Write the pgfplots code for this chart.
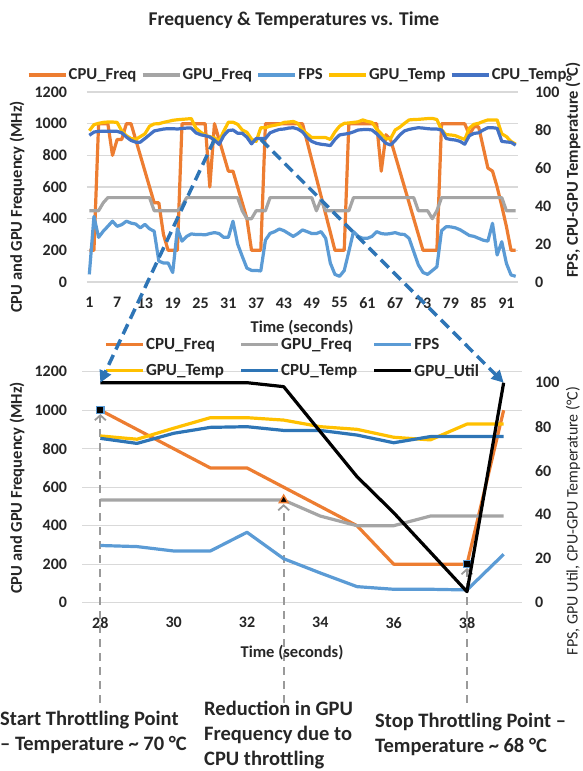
\documentclass[border=0pt]{standalone}
\usepackage{fontspec}
\setmainfont{Carlito}
\usepackage{pgfplots}
\usepackage{pgfplotstable}
\pgfplotsset{compat=1.18}
\usetikzlibrary{arrows.meta}

\definecolor{cOrange}{HTML}{ED7D31}
\definecolor{cGray}{HTML}{A5A5A5}
\definecolor{cFPS}{HTML}{5B9BD5}
\definecolor{cYellow}{HTML}{FFC000}
\definecolor{cBlueA}{HTML}{4472C4}
\definecolor{cBlueB}{HTML}{2E75B6}
\definecolor{cArrow}{HTML}{2E75B6}
\definecolor{gridgray}{HTML}{D9D9D9}
\definecolor{txt}{HTML}{262626}
\definecolor{annot}{HTML}{9A9A9A}

\newcommand\tickfont{\bfseries\fontsize{16}{16}\selectfont}
\newcommand\labfont{\bfseries\fontsize{16.5}{16.5}\selectfont}
\newcommand\legfont{\bfseries\fontsize{17}{17}\selectfont}
\newcommand\legfontT{\bfseries\fontsize{16.7}{16.7}\selectfont}
\newcommand\annfont{\bfseries\fontsize{20.5}{25}\selectfont}

\tikzset{
  ser/.style={line width=3.2pt,line join=round},
  cf/.style={ser,color=cOrange},
  gf/.style={ser,color=cGray},
  fps/.style={ser,color=cFPS},
  gt/.style={ser,color=cYellow},
  cta/.style={ser,color=cBlueA},
  ctb/.style={ser,color=cBlueB},
  gu/.style={ser,color=black},
  bluearrow/.style={draw=cArrow,line width=3.5pt,dash pattern=on 11pt off 6pt,
    -{Triangle[length=12pt,width=12pt]}},
  graydash/.style={draw=annot,line width=2pt,dash pattern=on 8pt off 6pt,
    -{Straight Barb[length=5pt,width=11pt,line width=1.8pt]}}
}

\pgfplotsset{
  base/.style={
    scale only axis,
    anchor=south west,
    axis line style={draw=none},
    tick style={draw=none},
    major tick length=0pt,
    scaled ticks=false,
    /pgf/number format/assume math mode=true,
    /pgf/number format/1000 sep={},
    ticklabel style={font=\tickfont,text=txt},
    grid style={draw=gridgray,line width=1.3pt},
    legend cell align=left,
    legend image code/.code={\draw[##1] (0pt,0pt) -- (37pt,0pt);},
  }
}

% top chart: seconds 1..93
\pgfplotstableread{
i cf gf fps gt ct
1 200 450 4 79.6 77.2
2 200 450 34.5 82.8 78.9
3 1000 450 23.5 83.5 79.3
4 1000 500 26.7 84 79.3
5 1000 533 29.3 84.2 79.3
6 800 533 32 84.2 79.3
7 900 533 29.3 84 79.3
8 900 533 30.2 79.5 78.5
9 1000 533 32 77 76.3
10 1000 533 31 75.5 74.5
11 900 533 30.5 75.1 73.6
12 800 533 28.5 76.5 73.6
13 700 533 30.3 78 75.5
14 600 533 28 82 77.5
15 500 450 26.7 83.2 79.5
16 500 450 11 83.3 80
17 300 450 10 84 80.5
18 200 450 10 84.5 80.7
19 200 450 5 85.1 80.7
20 200 450 28 85.4 80.5
21 1000 480 21.5 85.6 80.8
22 1000 533 24 85.8 81
23 1000 533 25.3 86 81
24 1000 533 25 81 78.5
25 1000 533 25 78.9 77.5
26 1000 533 24.8 77.2 77
27 600 533 25.5 76.5 76.3
28 1000 533 26 75.8 74.7
29 900 533 25.5 74.3 72.4
30 800 533 23.5 79.3 77
31 700 533 23.5 84.1 79.7
32 700 533 32 84.1 80
33 600 533 20 83 78.3
34 500 450 13.5 80 78.3
35 400 400 7.3 78.8 76.2
36 200 400 6.1 75.2 72.7
37 200 450 6.1 74 75.5
38 200 450 5.8 81.2 75.5
39 1000 450 22 81.2 75.5
40 1000 533 25.6 82 78.5
41 1000 533 26.5 82.5 79.5
42 1000 533 27.9 83 80.3
43 1000 533 27 84 80.5
44 1000 533 25.5 84.2 81
45 1000 533 24 84.5 81.2
46 1000 533 25.5 83.5 80.5
47 1000 533 27.4 80 79
48 886 533 26.5 78 76
49 771 533 25.5 76 74
50 657 450 25.5 76 73
51 543 520 26.5 76 72.5
52 429 450 23 76 72.2
53 314 450 10 75 71.8
54 200 450 4 79 75
55 200 450 3 82 77.4
56 200 450 6 83.5 77.8
57 1000 450 16 83.7 78.2
58 1000 533 26.5 84 79
59 1000 533 24 84.3 80
60 1000 533 23 85.3 80.2
61 1000 533 23 84.5 80.3
62 1000 533 24 84 80
63 1000 533 26.5 80.5 78
64 700 533 25.5 78 75.5
65 930 533 25.2 75.4 73
66 900 533 25.5 75.4 72.1
67 800 533 26 80 74.5
68 700 533 25.2 81.5 77.4
69 600 533 25 83.5 79.5
70 500 533 23 85.3 80.3
71 400 533 16 85.5 80.8
72 300 450 9 85.6 81.2
73 200 450 5 85.8 81
74 200 450 4 86 80.7
75 200 400 6 86.1 80.5
76 200 450 8 85.5 80.5
77 1000 533 27 80 80
78 1000 533 29.1 77.5 75.5
79 1000 533 29 77.4 75
80 1000 533 28.5 77 74.7
81 1000 533 27.5 76 74
82 1000 533 26 75 72.5
83 930 533 24.5 81 77
84 980 533 24 83 78.2
85 980 533 23 83.5 78.5
86 850 533 22 84.5 80
87 720 533 21.5 85.3 81.2
88 700 533 30.9 85.3 81.2
89 600 533 14.2 85.3 80.9
90 480 533 21.2 78 74
91 350 450 9.8 76.5 73.7
92 200 450 3.7 74 73.5
93 200 450 3 72.5 72
}\topdata

% bottom chart: seconds 28..39
\pgfplotstableread{
t cf gf fps gt ct gu
28 1000 533 26 75.8 74.7 100
29 900 533 25.5 74.3 72.4 100
30 800 533 23.5 79.3 77 100
31 700 533 23.5 84.1 79.7 100
32 700 533 32 84.1 80 100
33 600 533 20 83 78.3 98.2
34 500 450 13.5 80 78.3 77.7
35 400 400 7.3 78.8 76.2 57.3
36 200 400 6.1 75.2 72.7 40.9
37 200 450 6.1 74 75.5 23
38 200 450 5.8 81.2 75.5 5
39 1000 450 22 81.2 75.5 100
}\botdata

\begin{document}
\begin{tikzpicture}[x=1pt,y=1pt]
\useasboundingbox (0,0) rectangle (582,771);

% ---------- top chart ----------
\begin{axis}[base,at={(87pt,489pt)},width=431pt,height=190pt,
  xmin=0.5,xmax=93.5,ymin=0,ymax=1200,
  xtick={1,7,...,91},ytick={0,200,...,1200},ymajorgrids,
  xticklabel style={yshift=-12pt},yticklabel style={xshift=-16.5pt}]
\addplot[cf] table[x=i,y=cf]{\topdata};
\addplot[gf] table[x=i,y=gf]{\topdata};
\end{axis}
\begin{axis}[base,at={(87pt,489pt)},width=431pt,height=190pt,
  xmin=0.5,xmax=93.5,ymin=0,ymax=100,hide x axis,axis y line*=right,
  ytick={0,20,...,100},yticklabel style={xshift=13.5pt,anchor=west},
  legend columns=5,
  legend style={at={(0.5,1)},anchor=south,xshift=-5pt,yshift=9pt,draw=none,fill=none,
    font=\legfontT,text=txt,inner sep=0pt,nodes={inner sep=1.5pt},
    /tikz/every even column/.append style={column sep=3pt}}]
\addlegendimage{cf}\addlegendentry{CPU\_Freq}
\addlegendimage{gf}\addlegendentry{GPU\_Freq}
\addplot[fps] table[x=i,y=fps]{\topdata};\addlegendentry{FPS}
\addplot[gt] table[x=i,y=gt]{\topdata};\addlegendentry{GPU\_Temp}
\addplot[cta] table[x=i,y=ct]{\topdata};\addlegendentry{CPU\_Temp}
\coordinate (s1) at (axis cs:28,75);
\coordinate (s2) at (axis cs:38,75);
\end{axis}

% ---------- bottom chart ----------
\begin{axis}[base,at={(82pt,168.3pt)},width=440pt,height=231pt,clip=false,
  xmin=27.5,xmax=39.5,ymin=0,ymax=1200,
  xtick={28,30,...,38},ytick={0,200,...,1200},ymajorgrids,
  xticklabel style={yshift=-11pt},yticklabel style={xshift=-11.5pt}]
\addplot[cf] table[x=t,y=cf]{\botdata};
\addplot[gf] table[x=t,y=gf]{\botdata};
\draw[graydash] (axis cs:28,-521) -- (axis cs:28,980);
\draw[graydash] (axis cs:33,-521) -- (axis cs:33,512);
\draw[graydash] (axis cs:38,-521) -- (axis cs:38,180);
\addplot[only marks,mark=square*,mark size=3.6pt,
  mark options={fill=black,draw=cFPS,line width=1.4pt}] coordinates {(28,1000) (38,200)};
\addplot[only marks,mark=triangle*,mark size=5pt,
  mark options={fill=black,draw=cOrange,line width=1.4pt}] coordinates {(33,533)};
\end{axis}
\begin{axis}[base,at={(82pt,168.3pt)},width=440pt,height=231pt,
  xmin=27.5,xmax=39.5,ymin=0,ymax=105,hide x axis,axis y line*=right,
  ytick={0,20,...,100},yticklabel style={xshift=9.5pt,anchor=west},
  legend columns=3,
  legend style={at={(0.5,1)},anchor=center,xshift=-9.5pt,yshift=13.7pt,draw=none,fill=none,
    font=\legfont,text=txt,inner sep=0pt,nodes={inner sep=1.5pt},row sep=10pt,
    /tikz/every even column/.append style={column sep=14pt}}]
\addlegendimage{cf}\addlegendentry{CPU\_Freq}
\addlegendimage{gf}\addlegendentry{GPU\_Freq}
\addplot[fps] table[x=t,y=fps]{\botdata};\addlegendentry{FPS}
\addplot[gt] table[x=t,y=gt]{\botdata};\addlegendentry{GPU\_Temp}
\addplot[ctb] table[x=t,y=ct]{\botdata};\addlegendentry{CPU\_Temp}
\addplot[gu] table[x=t,y=gu]{\botdata};\addlegendentry{GPU\_Util}
\coordinate (e1) at (axis cs:28,100);
\coordinate (e2) at (axis cs:39,100);
\end{axis}

% ---------- arrows linking the two charts ----------
\draw[bluearrow] (s1) -- (e1);
\draw[bluearrow] (s2) -- (e2);

% ---------- titles and labels ----------
\node[font=\bfseries\fontsize{19.5}{19.5}\selectfont,text=txt] at (294,751) {Frequency \& Temperatures vs. Time};
\node[rotate=90,font=\labfont,text=txt] at (17,564) {CPU and GPU Frequency (MHz)};
\node[rotate=90,font=\labfont,text=txt] at (573,601) {FPS, CPU-GPU Temperature (°C)};
\node[font=\labfont,text=txt] at (302,443) {Time (seconds)};
\node[rotate=90,font=\labfont,text=txt] at (17,283) {CPU and GPU Frequency (MHz)};
\node[rotate=90,font=\fontsize{16}{16}\selectfont,text=txt] at (573,250) {FPS, GPU Util, CPU-GPU Temperature (°C)};
\node[font=\labfont,text=txt] at (292,118) {Time (seconds)};

% ---------- annotations ----------
\node[anchor=west,align=left,font=\annfont,text=txt,inner sep=0pt] at (0,38.5)
  {Start Throttling Point\\– Temperature \textasciitilde{} 70 °C};
\node[anchor=west,align=left,font=\annfont,text=txt,inner sep=0pt] at (204,36)
  {Reduction in GPU\\Frequency due to\\CPU throttling};
\node[anchor=west,align=left,font=\annfont,text=txt,inner sep=0pt] at (375,36.5)
  {Stop Throttling Point –\\Temperature \textasciitilde{} 68 °C};
\end{tikzpicture}
\end{document}
